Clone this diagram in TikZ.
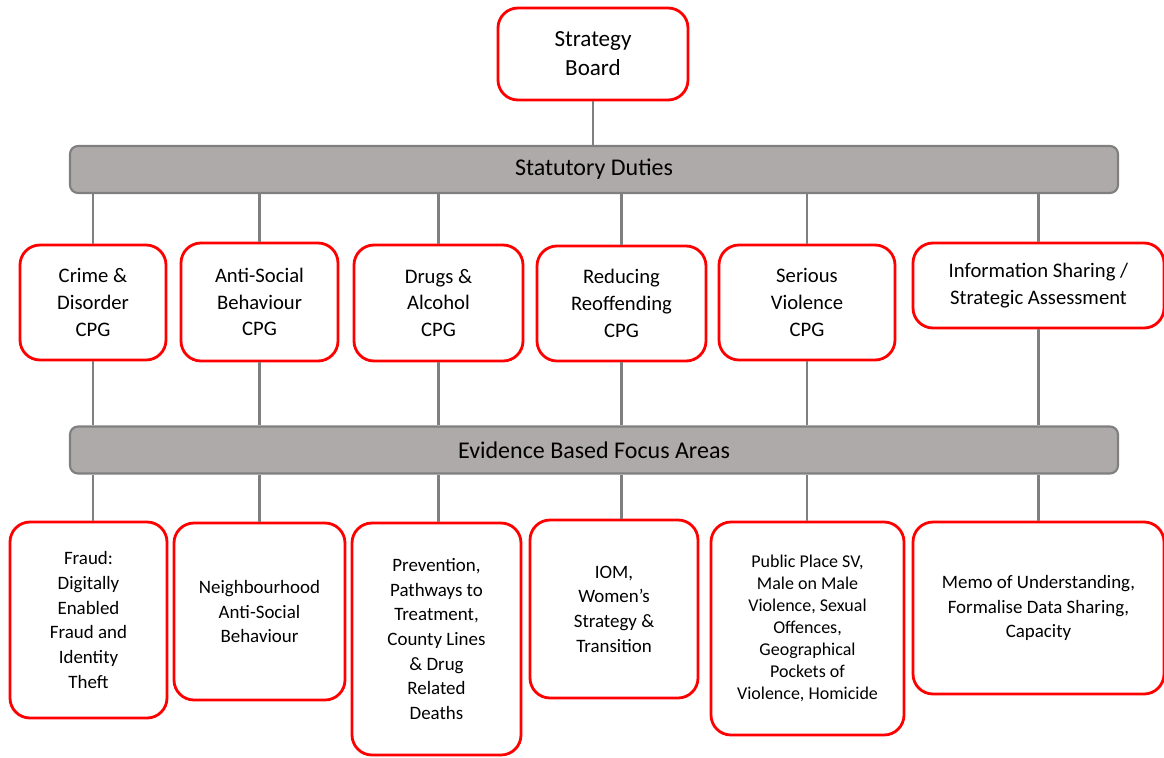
\documentclass[tikz,border=0pt]{standalone}
\usepackage{fontspec}
\setmainfont{Carlito}
\definecolor{boxred}{RGB}{255,0,0}
\definecolor{bargray}{RGB}{174,170,170}
\definecolor{linegray}{RGB}{127,127,127}
\tikzset{
  group/.style={draw=boxred, line width=2.1pt, fill=white, rounded corners=15pt,
    align=center, inner sep=2pt, font=\fontsize{15.5}{20}\selectfont},
  area/.style={group, font=\fontsize{14.2}{18.5}\selectfont},
  bar/.style={draw=linegray, line width=1.6pt, fill=bargray, rounded corners=6pt,
    minimum width=786pt, minimum height=35.25pt, font=\fontsize{18}{22}\selectfont},
  link/.style={draw=linegray, line width=2.1pt}
}
\begin{document}
\begin{tikzpicture}[x=0.75pt, y=-0.75pt]
\useasboundingbox (0,0) rectangle (1164,757);
% top
\node[group, minimum width=142.5pt, minimum height=69pt, font=\fontsize{17.3}{21.75}\selectfont]
  (sb) at (593,54) {Strategy\\Board};
\node[bar] (duties) at (594,169.5) {Statutory Duties};
\node[bar] (focus) at (594,450) {Evidence Based Focus Areas};
% partnership groups
\node[group, minimum width=109.5pt, minimum height=86.25pt] (cd) at (93,302.5) {Crime \&\\Disorder\\CPG};
\node[group, minimum width=117.75pt, minimum height=88.5pt] (asb) at (259.5,302) {Anti-Social\\Behaviour\\CPG};
\node[group, minimum width=126.75pt, minimum height=87pt] (da) at (438.5,303) {Drugs \&\\Alcohol\\CPG};
\node[group, minimum width=126.75pt, minimum height=86.25pt] (rr) at (621.5,303.5) {Reducing\\Reoffending\\CPG};
\node[group, minimum width=132pt, minimum height=86.25pt] (sv) at (807,302.5) {Serious\\Violence\\CPG};
\node[group, minimum width=188.25pt, minimum height=63.75pt] (is) at (1038.5,285.5) {Information Sharing /\\Strategic Assessment};
% focus areas
\node[area, minimum width=117.75pt, minimum height=147pt] (fr) at (88.5,620) {Fraud:\\Digitally\\Enabled\\Fraud and\\Identity\\Theft};
\node[area, minimum width=128.25pt, minimum height=132.75pt] (nb) at (259.5,611.5) {Neighbourhood\\Anti-Social\\Behaviour};
\node[area, minimum width=126.75pt, minimum height=174pt] (pv) at (436.5,639) {Prevention,\\Pathways to\\Treatment,\\County Lines\\\& Drug\\Related\\Deaths};
\node[area, minimum width=126pt, minimum height=133.5pt] (iom) at (614,609) {IOM,\\Women’s\\Strategy \&\\Transition};
\node[area, minimum width=144.75pt, minimum height=159.75pt, font=\fontsize{13.5}{16.5}\selectfont]
  (pp) at (807.5,628.5) {Public Place SV,\\Male on Male\\Violence, Sexual\\Offences,\\Geographical\\Pockets of\\Violence, Homicide};
\node[area, minimum width=188.25pt, minimum height=129pt] (mu) at (1038.5,608) {Memo of Understanding,\\Formalise Data Sharing,\\Capacity};
% connectors
\draw[link] (sb.south) -- (sb.south |- duties.north);
\foreach \g/\f in {cd/fr, asb/nb, da/pv, rr/iom, sv/pp, is/mu} {
  \draw[link] (duties.south -| \g.north) -- (\g.north);
  \draw[link] (\g.south) -- (\g.south |- focus.north);
  \draw[link] (focus.south -| \g.south) -- (\g.south |- \f.north);
}
\end{tikzpicture}
\end{document}
